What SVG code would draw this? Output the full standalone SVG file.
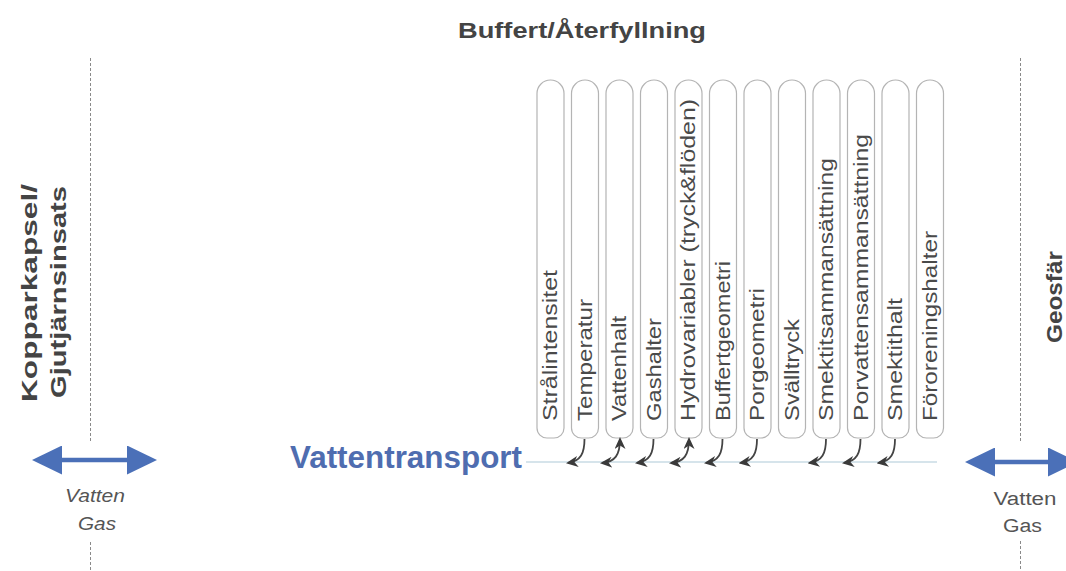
<svg xmlns="http://www.w3.org/2000/svg" width="1066" height="571" viewBox="0 0 1066 571">
  <defs>
    <style>
      .title { font-family: "Liberation Sans", Arial, sans-serif; font-weight: bold; fill: #444; }
      .side { font-family: "Liberation Sans", Arial, sans-serif; font-weight: bold; font-size: 22px; fill: #444; }
      .pill { fill: #fff; stroke: #b4b4b4; stroke-width: 1.2; }
      .pilltext { font-family: "Liberation Sans", Arial, sans-serif; font-size: 20px; fill: #4a4a4a; }
      .dash { stroke: #8a8a8a; stroke-width: 1; stroke-dasharray: 3 2; fill: none; }
      .flow { stroke: #4b70b8; stroke-width: 4.5; fill: none; }
      .link { stroke: #444; stroke-width: 1.8; fill: none; }
      .medium { font-family: "Liberation Sans", Arial, sans-serif; font-size: 18px; fill: #555; text-anchor: middle; }
      .band { stroke: #d6e4eb; stroke-width: 2; }
    </style>
    <marker id="head" markerUnits="userSpaceOnUse" markerWidth="12" markerHeight="11" refX="10" refY="5.5" orient="auto-start-reverse">
      <path d="M0,0 L12,5.5 L0,11 L3.5,5.5 z" fill="#3a3a3a"/>
    </marker>
    <marker id="bluehead" markerUnits="userSpaceOnUse" markerWidth="31" markerHeight="29" refX="12" refY="14.5" orient="auto-start-reverse">
      <path d="M0,0 L30,14.5 L0,29 z" fill="#4b70b8"/>
    </marker>
  </defs>

  <rect width="1066" height="571" fill="#fff"/>

  <!-- section title -->
  <text class="title" x="458" y="38" font-size="22" textLength="248" lengthAdjust="spacingAndGlyphs">Buffert/Återfyllning</text>

  <!-- boundaries between canister, buffer and geosphere -->
  <g id="boundaries">
    <line class="dash" x1="90.5" y1="58" x2="90.5" y2="441"/>
    <line class="dash" x1="90.5" y1="542" x2="90.5" y2="571"/>
    <line class="dash" x1="1020.5" y1="58" x2="1020.5" y2="441"/>
    <line class="dash" x1="1020.5" y1="541" x2="1020.5" y2="571"/>
  </g>

  <g id="canister">
    <text class="side" transform="translate(37,402) rotate(-90)" textLength="218" lengthAdjust="spacingAndGlyphs">Kopparkapsel/</text>
    <text class="side" transform="translate(66,398) rotate(-90)" textLength="212" lengthAdjust="spacingAndGlyphs">Gjutjärnsinsats</text>
  </g>

  <g id="geosphere">
    <text class="side" transform="translate(1062,343) rotate(-90)" textLength="92" lengthAdjust="spacingAndGlyphs">Geosfär</text>
  </g>

  <!-- water transport axis -->
  <g id="transport">
    <line class="band" x1="526" y1="462" x2="937" y2="462"/>
    <text x="290" y="468" font-family="'Liberation Sans', Arial, sans-serif" font-weight="bold" font-size="31" fill="#4f6db0" textLength="232" lengthAdjust="spacingAndGlyphs">Vattentransport</text>
  </g>

  <!-- buffer variables -->
  <g id="v1"><path class="pill" d="M537,93.5 A13.5,13.5 0 0 1 564,93.5 V428 A10,10 0 0 1 554,438 H547 A10,10 0 0 1 537,428 Z"/>
    <text class="pilltext" transform="translate(557,421) rotate(-90)" textLength="151" lengthAdjust="spacingAndGlyphs">Strålintensitet</text></g>
  <g id="v2"><path class="pill" d="M571.5,93.5 A13.5,13.5 0 0 1 598.5,93.5 V428 A10,10 0 0 1 588.5,438 H581.5 A10,10 0 0 1 571.5,428 Z"/>
    <text class="pilltext" transform="translate(591.5,421) rotate(-90)" textLength="122" lengthAdjust="spacingAndGlyphs">Temperatur</text></g>
  <g id="v3"><path class="pill" d="M606,93.5 A13.5,13.5 0 0 1 633,93.5 V428 A10,10 0 0 1 623,438 H616 A10,10 0 0 1 606,428 Z"/>
    <text class="pilltext" transform="translate(626,421) rotate(-90)" textLength="105" lengthAdjust="spacingAndGlyphs">Vattenhalt</text></g>
  <g id="v4"><path class="pill" d="M640.5,93.5 A13.5,13.5 0 0 1 667.5,93.5 V428 A10,10 0 0 1 657.5,438 H650.5 A10,10 0 0 1 640.5,428 Z"/>
    <text class="pilltext" transform="translate(660.5,421) rotate(-90)" textLength="103" lengthAdjust="spacingAndGlyphs">Gashalter</text></g>
  <g id="v5"><path class="pill" d="M675,93.5 A13.5,13.5 0 0 1 702,93.5 V428 A10,10 0 0 1 692,438 H685 A10,10 0 0 1 675,428 Z"/>
    <text class="pilltext" transform="translate(695,421) rotate(-90)" textLength="322" lengthAdjust="spacingAndGlyphs">Hydrovariabler (tryck&amp;flöden)</text></g>
  <g id="v6"><path class="pill" d="M709.5,93.5 A13.5,13.5 0 0 1 736.5,93.5 V428 A10,10 0 0 1 726.5,438 H719.5 A10,10 0 0 1 709.5,428 Z"/>
    <text class="pilltext" transform="translate(729.5,421) rotate(-90)" textLength="160" lengthAdjust="spacingAndGlyphs">Buffertgeometri</text></g>
  <g id="v7"><path class="pill" d="M744,93.5 A13.5,13.5 0 0 1 771,93.5 V428 A10,10 0 0 1 761,438 H754 A10,10 0 0 1 744,428 Z"/>
    <text class="pilltext" transform="translate(764,421) rotate(-90)" textLength="133" lengthAdjust="spacingAndGlyphs">Porgeometri</text></g>
  <g id="v8"><path class="pill" d="M778.5,93.5 A13.5,13.5 0 0 1 805.5,93.5 V428 A10,10 0 0 1 795.5,438 H788.5 A10,10 0 0 1 778.5,428 Z"/>
    <text class="pilltext" transform="translate(798.5,421) rotate(-90)" textLength="102" lengthAdjust="spacingAndGlyphs">Svälltryck</text></g>
  <g id="v9"><path class="pill" d="M813,93.5 A13.5,13.5 0 0 1 840,93.5 V428 A10,10 0 0 1 830,438 H823 A10,10 0 0 1 813,428 Z"/>
    <text class="pilltext" transform="translate(833,421) rotate(-90)" textLength="263" lengthAdjust="spacingAndGlyphs">Smektitsammansättning</text></g>
  <g id="v10"><path class="pill" d="M847.5,93.5 A13.5,13.5 0 0 1 874.5,93.5 V428 A10,10 0 0 1 864.5,438 H857.5 A10,10 0 0 1 847.5,428 Z"/>
    <text class="pilltext" transform="translate(867.5,421) rotate(-90)" textLength="287" lengthAdjust="spacingAndGlyphs">Porvattensammansättning</text></g>
  <g id="v11"><path class="pill" d="M882,93.5 A13.5,13.5 0 0 1 909,93.5 V428 A10,10 0 0 1 899,438 H892 A10,10 0 0 1 882,428 Z"/>
    <text class="pilltext" transform="translate(902,421) rotate(-90)" textLength="123" lengthAdjust="spacingAndGlyphs">Smektithalt</text></g>
  <g id="v12"><path class="pill" d="M916.5,93.5 A13.5,13.5 0 0 1 943.5,93.5 V428 A10,10 0 0 1 933.5,438 H926.5 A10,10 0 0 1 916.5,428 Z"/>
    <text class="pilltext" transform="translate(936.5,421) rotate(-90)" textLength="190" lengthAdjust="spacingAndGlyphs">Föroreningshalter</text></g>

  <!-- couplings between variables and water transport -->
  <g id="connectors">
    <path class="link" marker-end="url(#head)" d="M584.5,439 C584.5,453 581,461 568,463"/>
    <path class="link" marker-start="url(#head)" marker-end="url(#head)" d="M620,439 C620,455 615,462 602,463"/>
    <path class="link" marker-end="url(#head)" d="M653.5,439 C653.5,453 650,461 637,463"/>
    <path class="link" marker-start="url(#head)" marker-end="url(#head)" d="M689,439 C689,455 684,462 671,463"/>
    <path class="link" marker-end="url(#head)" d="M722.5,439 C722.5,453 719,461 706,463"/>
    <path class="link" marker-end="url(#head)" d="M757,439 C757,453 753.5,461 740.5,463"/>
    <path class="link" marker-end="url(#head)" d="M826,439 C826,453 822.5,461 809.5,463"/>
    <path class="link" marker-end="url(#head)" d="M860.5,439 C860.5,453 857,461 844,463"/>
    <path class="link" marker-end="url(#head)" d="M895,439 C895,453 891.5,461 878.5,463"/>

    <!-- exchange across the boundaries -->
    <line class="flow" marker-start="url(#bluehead)" marker-end="url(#bluehead)" x1="50" y1="460" x2="139" y2="460"/>
    <line class="flow" marker-start="url(#bluehead)" marker-end="url(#bluehead)" x1="983" y1="462" x2="1060" y2="462"/>
  </g>

  <g id="exchange-labels">
    <text class="medium" font-style="italic" x="95" y="502" textLength="60" lengthAdjust="spacingAndGlyphs">Vatten</text>
    <text class="medium" font-style="italic" x="97" y="530" textLength="38" lengthAdjust="spacingAndGlyphs">Gas</text>
    <text class="medium" x="1025" y="505" textLength="63" lengthAdjust="spacingAndGlyphs">Vatten</text>
    <text class="medium" x="1022.5" y="532" textLength="39" lengthAdjust="spacingAndGlyphs">Gas</text>
  </g>
</svg>
